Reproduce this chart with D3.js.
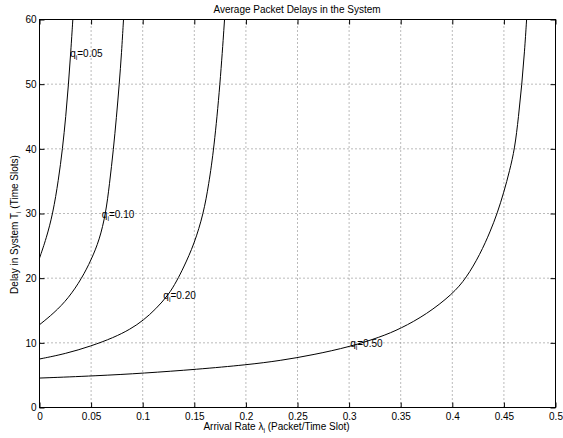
<!DOCTYPE html>
<html lang="en">

<head>
    <meta charset="UTF-8">
    <script src="https://d3js.org/d3.v7.min.js"></script>
    <title>Average Packet Delays in the System</title>
    <style>
        body { margin: 0; background: #fff; }
        svg text { font-family: "Liberation Sans", Arial, Helvetica, sans-serif; font-size: 10px; fill: #000; }
        .grid line { stroke: #777; stroke-width: 1; stroke-dasharray: 1, 3; }
        .curve { fill: none; stroke: #000; stroke-width: 1; }
    </style>
</head>

<body>
    <script>
        var width = 563,
            height = 438;

        // arrival rate (x) and delay (y), one pair of arrays per curve
        var lam05 = [0, 0.0065, 0.013, 0.0184, 0.0223, 0.0255, 0.0281, 0.0303, 0.0323];
        var delay05 = [23.1, 26.1, 30, 35.2, 40, 45, 50, 55, 60];

        var lam10 = [0, 0.014, 0.0281, 0.0411, 0.050, 0.0581, 0.0642, 0.0678, 0.0717, 0.0745, 0.0773, 0.0795, 0.0814];
        var delay10 = [12.8, 14.6, 16.9, 20, 22.8, 25.9, 30, 34.5, 40, 44.8, 50, 54.8, 60];

        var lam20 = [0, 0.025, 0.05, 0.0717, 0.088, 0.1008, 0.1125, 0.125, 0.1331, 0.1395, 0.150, 0.1589, 0.1640, 0.1690, 0.175, 0.1793];
        var delay20 = [7.5, 8.3, 9.5, 10.8, 12.1, 13.5, 15.2, 17.4, 19.6, 21.6, 25.3, 30, 34.5, 40, 49.9, 60];

        var lam50 = [0, 0.0556, 0.1008, 0.1525, 0.201, 0.2333, 0.2655, 0.301, 0.3304, 0.35, 0.375, 0.40, 0.4135, 0.427, 0.437, 0.4435, 0.450, 0.4555, 0.4605, 0.4642, 0.4674, 0.470, 0.472];
        var delay50 = [4.55, 4.9, 5.3, 5.9, 6.6, 7.25, 8.15, 9.4, 10.9, 12.2, 14.4, 17.5, 20, 23.7, 27.3, 30, 33.3, 36.6, 40, 45, 50, 55, 60];

        // curve labels: q value and where the text sits
        var labelNames = ["0.05", "0.10", "0.20", "0.50"];
        var labelX = [0.0297, 0.0604, 0.120, 0.301];
        var labelY = [54.7, 29.8, 17.3, 9.95];

        var xTicks = [0, 0.05, 0.1, 0.15, 0.2, 0.25, 0.3, 0.35, 0.4, 0.45, 0.5];
        var yTicks = [0, 10, 20, 30, 40, 50, 60];

        var series = [[lam05, delay05], [lam10, delay10], [lam20, delay20], [lam50, delay50]];

        var svg = d3.select("body").append("svg")
            .attr("width", width)
            .attr("height", height);

        var x = d3.scaleLinear().domain([0, 0.5]).range([39.5, 555.5]);
        var y = d3.scaleLinear().domain([0, 60]).range([407.5, 19.5]);

        // dotted grid
        var grid = svg.append("g").attr("class", "grid");
        grid.selectAll(".gx").data(xTicks.slice(1, -1)).enter().append("line")
            .attr("x1", d => x(d)).attr("x2", d => x(d))
            .attr("y1", y(0)).attr("y2", y(60));
        grid.selectAll(".gy").data(yTicks.slice(1, -1)).enter().append("line")
            .attr("y1", d => y(d)).attr("y2", d => y(d))
            .attr("x1", x(0)).attr("x2", x(0.5));

        // curves, smoothed through the read points
        var line = d3.line()
            .x(d => x(d[0]))
            .y(d => y(d[1]))
            .curve(d3.curveBasis);

        series.forEach(function (s) {
            var pts = s[0].map((v, i) => [v, s[1][i]]);
            svg.append("path").attr("class", "curve").attr("d", line(pts));
        });

        // axes, ticks pointing inward on all four sides
        function styleAxis(g) {
            g.select(".domain").remove();
            g.selectAll(".tick line").attr("stroke", "#000");
            g.attr("font-family", null).attr("font-size", null);
        }

        svg.append("g")
            .attr("transform", "translate(0," + y(0) + ")")
            .call(d3.axisBottom(x).tickValues(xTicks).tickFormat(d => String(d))
                .tickSizeInner(-5).tickSizeOuter(0).tickPadding(5))
            .call(styleAxis);

        svg.append("g")
            .attr("transform", "translate(0," + y(60) + ")")
            .call(d3.axisTop(x).tickValues(xTicks).tickFormat("")
                .tickSizeInner(-5).tickSizeOuter(0))
            .call(styleAxis);

        svg.append("g")
            .attr("transform", "translate(" + x(0) + ",0)")
            .call(d3.axisLeft(y).tickValues(yTicks).tickFormat(d => String(d))
                .tickSizeInner(-5).tickSizeOuter(0).tickPadding(3))
            .call(styleAxis);

        svg.append("g")
            .attr("transform", "translate(" + x(0.5) + ",0)")
            .call(d3.axisRight(y).tickValues(yTicks).tickFormat("")
                .tickSizeInner(-5).tickSizeOuter(0))
            .call(styleAxis);

        // frame
        svg.append("rect")
            .attr("x", x(0)).attr("y", y(60))
            .attr("width", x(0.5) - x(0)).attr("height", y(0) - y(60))
            .attr("fill", "none").attr("stroke", "#000");

        // curve labels q_i=...
        labelNames.forEach(function (name, i) {
            var t = svg.append("text")
                .attr("x", x(labelX[i]))
                .attr("y", y(labelY[i]) + 3.6);
            t.append("tspan").text("q");
            t.append("tspan").attr("dy", 3).style("font-size", "7px").text("i");
            t.append("tspan").attr("dy", -3).text("=" + name);
        });

        // title and axis labels
        svg.append("text")
            .attr("x", 297).attr("y", 13)
            .attr("text-anchor", "middle")
            .text("Average Packet Delays in the System");

        var xl = svg.append("text")
            .attr("x", 276.5).attr("y", 430)
            .attr("text-anchor", "middle");
        xl.append("tspan").text("Arrival Rate \u03bb");
        xl.append("tspan").attr("dy", 3).style("font-size", "7px").text("i");
        xl.append("tspan").attr("dy", -3).text(" (Packet/Time Slot)");

        var yl = svg.append("text")
            .attr("transform", "translate(18,224.5) rotate(-90)")
            .attr("text-anchor", "middle");
        yl.append("tspan").text("Delay in System T");
        yl.append("tspan").attr("dy", 3).style("font-size", "7px").text("i");
        yl.append("tspan").attr("dy", -3).text(" (Time Slots)");
    </script>
</body>

</html>
